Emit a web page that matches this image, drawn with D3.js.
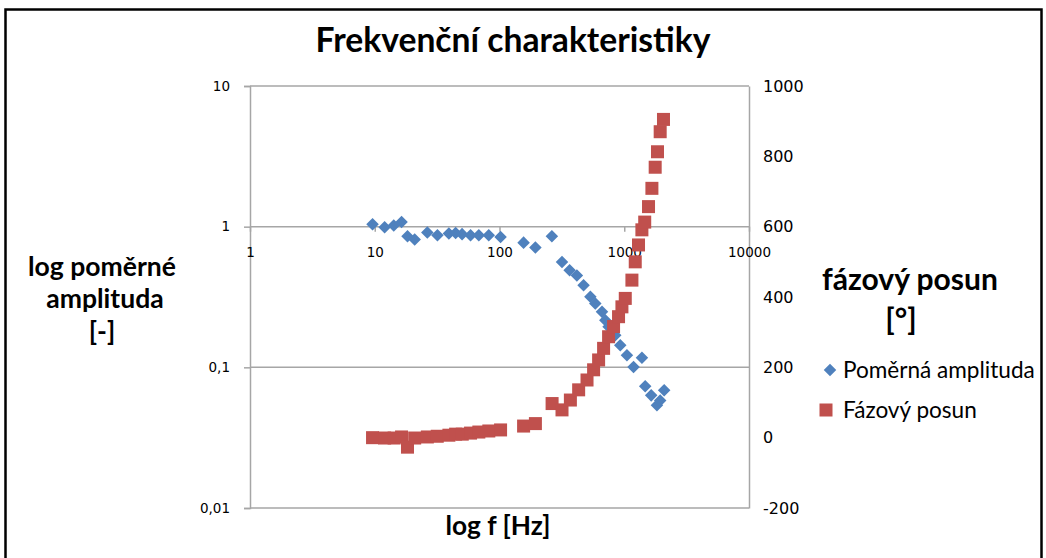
<!DOCTYPE html>
<html><head><meta charset="utf-8">
<script src="https://cdn.jsdelivr.net/npm/d3@7"></script>
<style>
html,body{margin:0;padding:0;background:#fff;}
svg{display:block;}
</style></head>
<body>
<svg id="c" width="1046" height="558"></svg>
<script>
// ---- data ----
const ampFreq = [9.6,12.0,14.2,16.4,18.3,20.9,26.4,31.8,39.3,44.5,50.1,58.6,68.3,82,102,156,194,263,317,365,417,472,535,586,663,705,749,847,929,1051,1187,1386,1472,1644,1828,1941,2089];
const ampValues = [1.04,0.99,1.02,1.08,0.855,0.81,0.91,0.87,0.895,0.90,0.885,0.87,0.87,0.87,0.845,0.77,0.71,0.855,0.56,0.49,0.45,0.384,0.317,0.284,0.248,0.216,0.194,0.169,0.1435,0.1218,0.1005,0.117,0.0733,0.0632,0.0537,0.0582,0.0686];
const phaseFreq = [9.6,12.0,14.3,16.4,18.3,20.9,26.4,31.7,39.3,44.5,50.3,58.6,68.3,82.1,102,156,194,264,317,370,431,503,568,623,683,749,821,900,958,1019,1152,1225,1301,1385,1459,1565,1666,1770,1847,1941,2063];
const phaseValues = [0,-1,-1,2,-27,-1,2,4,7,10,10,13,16,19,22,33,40,97,79,107,136,164,193,221,254,287,316,344,372,396,448,500,548,591,613,657,709,769,813,870,905];
const xTicks = [1,10,100,1000,10000];
const yLeftTicks = [0.01,0.1,1,10];
const yRightTicks = [-200,0,200,400,600,800,1000];
const seriesNames = ["Poměrná amplituda","Fázový posun"];
const titleText = "Frekvenční charakteristiky";
const leftTitle = ["log poměrné","amplituda","[-]"];
const rightTitle = ["fázový posun","[°]"];
const xTitle = "log f [Hz]";

// ---- layout ----
const svg = d3.select("#c");
const L = 250, R = 749, T = 86, B = 508;
const blue = "#4F81BD", red = "#C0504D", grid = "#a6a6a6";
const tickFont = "DejaVu Sans, sans-serif";
const titleFont = "Lato, 'Open Sans', sans-serif";

const x = d3.scaleLog().domain([1,10000]).range([L,R]);
const yL = d3.scaleLog().domain([0.01,10]).range([B,T]);
const yR = d3.scaleLinear().domain([-200,1000]).range([B,T]);
const fmt = d => String(d).replace(".", ",");

// outer frame
svg.append("rect").attr("x",5.5).attr("y",9.5).attr("width",1036).attr("height",560)
  .attr("fill","none").attr("stroke","#000").attr("stroke-width",2.5);

// gridlines
svg.append("g").selectAll("line").data(yLeftTicks).join("line")
  .attr("x1",L).attr("x2",R).attr("y1",d=>yL(d)).attr("y2",d=>yL(d))
  .attr("stroke",grid).attr("stroke-width",1.5);

// left axis
const gl = svg.append("g").attr("transform",`translate(${L},0)`)
  .call(d3.axisLeft(yL).tickValues(yLeftTicks).tickFormat(fmt).tickSize(6).tickPadding(14));
// right axis
const gr = svg.append("g").attr("transform",`translate(${R},0)`)
  .call(d3.axisRight(yR).tickValues(yRightTicks).tickFormat(d=>String(d)).tickSize(0).tickPadding(14));
// x axis at y = 1
const gx = svg.append("g").attr("transform",`translate(0,${yL(1)})`)
  .call(d3.axisBottom(x).tickValues(xTicks).tickFormat(d=>String(d)).tickSize(5).tickPadding(16));

[gl,gr,gx].forEach(g=>{
  g.select(".domain").attr("stroke",grid).attr("stroke-width",1.5);
  g.selectAll(".tick line").attr("stroke",grid).attr("stroke-width",1.5);
  g.selectAll("text").attr("font-family",tickFont).attr("font-size",13.5).attr("fill","#000");
});
gr.selectAll("text").attr("font-size",16);
gx.select(".domain").attr("stroke","none");

// helper: scale a block of text lines so the first line gets a target width
function fitBlock(sels, w){
  const cur = sels[0].node().getComputedTextLength();
  const fs = parseFloat(sels[0].attr("font-size"));
  sels.forEach(s=>s.attr("font-size", fs*w/cur));
}
function txt(xp, yp, t, fs, bold){
  return svg.append("text").attr("x",xp).attr("y",yp).attr("text-anchor","middle")
    .attr("font-family",titleFont).attr("font-weight",bold?"bold":"normal")
    .attr("font-size",fs).attr("fill","#000").text(t);
}

// series: amplitude diamonds
svg.append("g").selectAll("path").data(ampFreq.map((f,i)=>[f,ampValues[i]])).join("path")
  .attr("d", d3.symbol(d3.symbolDiamond2, 100))
  .attr("transform", d=>`translate(${x(d[0])},${yL(d[1])})`)
  .attr("fill", blue);
// phase squares
const sq = 13;
svg.append("g").selectAll("rect").data(phaseFreq.map((f,i)=>[f,phaseValues[i]])).join("rect")
  .attr("x", d=>x(d[0])-sq/2).attr("y", d=>yR(d[1])-sq/2)
  .attr("width",sq).attr("height",sq).attr("fill", red);

// titles
fitBlock([txt(513,52,titleText,26,true)], 395);
fitBlock([txt(102,276,leftTitle[0],20,true), txt(105,308,leftTitle[1],20,true), txt(102,341,leftTitle[2],20,true)], 148);
fitBlock([txt(910,290,rightTitle[0],20,true), txt(901,330,rightTitle[1],20,true)], 176);
fitBlock([txt(498,535,xTitle,20,true)], 105);

// legend
const lg = svg.append("g");
lg.append("path").attr("d", d3.symbol(d3.symbolDiamond2, 100))
  .attr("transform","translate(830,370)").attr("fill",blue);
lg.append("rect").attr("x",826-sq/2).attr("y",410-sq/2).attr("width",sq).attr("height",sq).attr("fill",red);
const legTexts = seriesNames.map((t,i)=>
  lg.append("text").attr("x",843).attr("y",370+40*i).attr("dy","0.35em")
    .attr("font-family",titleFont).attr("font-size",17).attr("fill","#000").text(t));
fitBlock(legTexts, 192);
</script>
</body></html>
